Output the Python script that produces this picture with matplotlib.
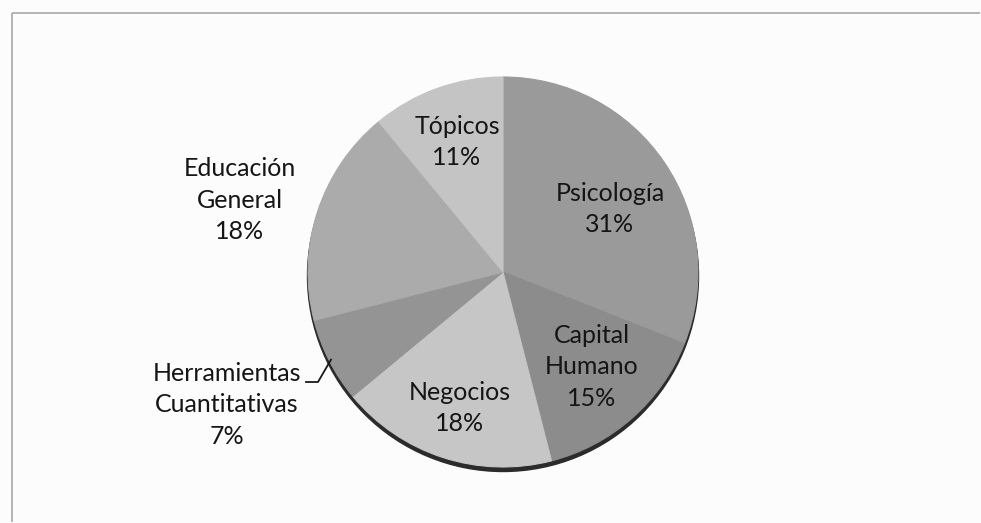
import numpy as np
import matplotlib.pyplot as plt
from matplotlib.patches import Circle

# ==============================
# Data
# ==============================

categories = ["Psicología", "Capital\nHumano", "Negocios",
              "Herramientas\nCuantitativas", "Educación\nGeneral", "Tópicos"]
shares = [31, 15, 18, 7, 18, 11]

slice_colors = ["#9a9a9a", "#8c8c8c", "#c6c6c6", "#949494", "#ababab", "#c4c4c4"]

# ==============================
# Layout (pixel units, y up)
# ==============================

W, H = 981, 523
cx, cy = 503, H - 272
R = 195

# label centres, in image pixels (y down)
label_pos = [(610, 209), (592, 367), (460, 408), (227, 405), (240, 200), (457, 142)]

plt.rcParams["font.family"] = ["Lato", "DejaVu Sans"]

fig = plt.figure(figsize=(W / 100, H / 100), dpi=100, facecolor="#fcfcfc")
ax = fig.add_axes([0, 0, 1, 1])

# dark rim under the pie
ax.add_patch(Circle((cx, cy - 4), R + 0.5, color="#2b2b2b", zorder=1))

wedges, _ = ax.pie(shares, colors=slice_colors, startangle=90, counterclock=False,
                   center=(cx, cy), radius=R, wedgeprops=dict(linewidth=0.8))
for w, c in zip(wedges, slice_colors):
    w.set_edgecolor(c)
    w.set_zorder(2)

ax.set_xlim(0, W)
ax.set_ylim(0, H)
ax.set_aspect("equal")
ax.axis("off")

# chart frame (top and left edges only, runs off the page)
ax.plot([12, W - 1], [H - 13, H - 13], color="#a8a8a8", lw=1.2, solid_capstyle="butt")
ax.plot([12, 12], [H - 13, 1], color="#a8a8a8", lw=1.2, solid_capstyle="butt")

total = sum(shares)
for name, val, (lx, ly) in zip(categories, shares, label_pos):
    ax.text(lx, H - ly, f"{name}\n{round(val / total * 100)}%", ha="center", va="center",
            fontsize=18, color="#151515", linespacing=1.45, zorder=3)

# leader line for the small slice
w = wedges[3]
mid = np.deg2rad((w.theta1 + w.theta2) / 2)
ex, ey = cx + R * 0.99 * np.cos(mid), cy + R * 0.99 * np.sin(mid)
ax.plot([306, 318, ex], [H - 382, H - 382, ey], color="#1a1a1a", lw=1.3, zorder=3)

fig.savefig("out.png", dpi=100, facecolor=fig.get_facecolor())
